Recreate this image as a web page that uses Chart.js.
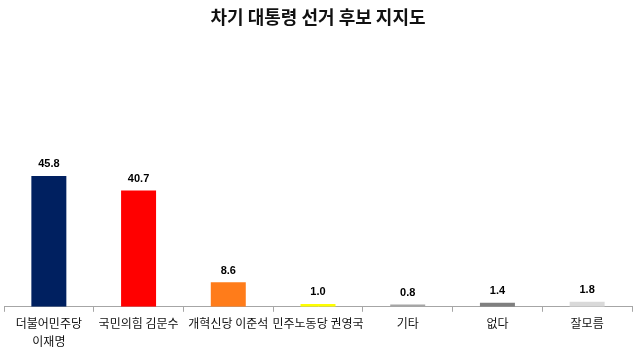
<!DOCTYPE html>
<html>
<head>
<meta charset="utf-8">
<script src="https://cdn.jsdelivr.net/npm/chart.js@4"></script>
<style>
  html, body { margin: 0; padding: 0; background: #fff; }
  #wrap { width: 640px; height: 353px; }
</style>
</head>
<body>
<div id="wrap"><canvas id="chart" width="640" height="353"></canvas></div>
<script>
const categories = [['더불어민주당', '이재명'], '국민의힘 김문수', '개혁신당 이준석', '민주노동당 권영국', '기타', '없다', '잘모름'];
const support = [45.8, 40.7, 8.6, 1.0, 0.8, 1.4, 1.8];
const barColors = ['#002060', '#ff0000', '#ff7c1a', '#ffff00', '#a6a6a6', '#7f7f7f', '#d9d9d9'];

const FONT = '"Noto Sans CJK KR", "Noto Sans", sans-serif';

// draw value labels above bars
const valueLabels = {
    id: 'valueLabels',
    afterDatasetsDraw(chart) {
        const ctx = chart.ctx;
        const meta = chart.getDatasetMeta(0);
        ctx.save();
        ctx.font = 'bold 11px "Liberation Sans", Arial, sans-serif';
        ctx.fillStyle = '#000';
        ctx.textAlign = 'center';
        ctx.textBaseline = 'bottom';
        meta.data.forEach((bar, i) => {
            ctx.fillText(support[i].toFixed(1), bar.x, bar.y - 6);
        });
        ctx.restore();
    }
};

new Chart(document.getElementById('chart'), {
    type: 'bar',
    data: {
        labels: categories,
        datasets: [{
            data: support,
            backgroundColor: barColors,
            barPercentage: 0.39,
            categoryPercentage: 1
        }]
    },
    options: {
        responsive: false,
        animation: false,
        layout: { padding: { left: 4, right: 8, top: 0, bottom: 0 } },
        scales: {
            y: { display: false, min: 0, max: 90 },
            x: {
                grid: { offset: true, drawOnChartArea: false, tickLength: 5, color: '#a6a6a6' },
                border: { color: '#a6a6a6' },
                ticks: {
                    color: '#111',
                    font: { family: FONT, size: 12, lineHeight: 1.55 },
                    maxRotation: 0,
                    autoSkip: false,
                    padding: 2
                }
            }
        },
        plugins: {
            legend: { display: false },
            tooltip: { enabled: false },
            title: {
                display: true,
                text: '차기 대통령 선거 후보 지지도',
                color: '#111',
                font: { family: FONT, size: 18, weight: 'bold' },
                padding: { top: 6, bottom: 22 }
            }
        }
    },
    plugins: [valueLabels]
});
</script>
</body>
</html>
